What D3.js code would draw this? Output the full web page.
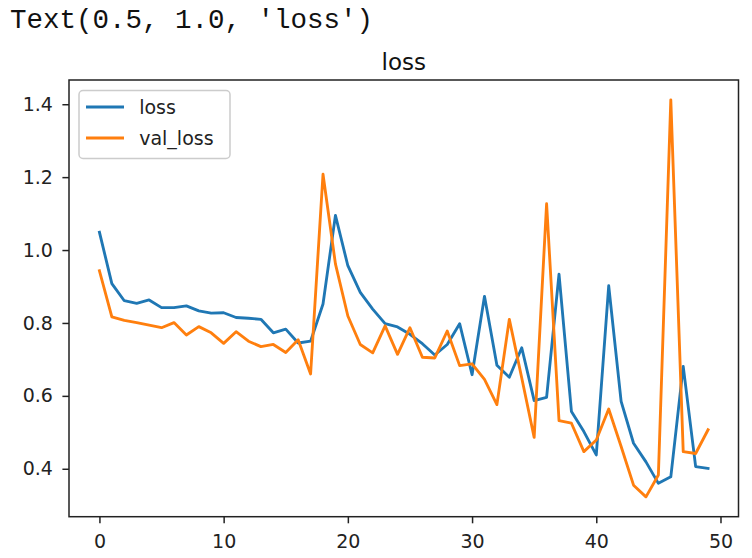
<!DOCTYPE html>
<html>
<head>
<meta charset="utf-8">
<script src="https://cdn.jsdelivr.net/npm/d3@7"></script>
<style>
  body { margin: 0; background: #fff; }
  svg { display: block; }
</style>
</head>
<body>
<div id="chart"></div>
<script>
// values (one per epoch)
var epochs = d3.range(0, 50);
var loss = [1.049, 0.908, 0.861, 0.854, 0.863, 0.842, 0.842, 0.847, 0.833, 0.827,
            0.828, 0.815, 0.813, 0.810, 0.773, 0.783, 0.745, 0.750, 0.852, 1.095,
            0.957, 0.884, 0.838, 0.798, 0.789, 0.769, 0.743, 0.712, 0.741, 0.798,
            0.658, 0.873, 0.684, 0.651, 0.732, 0.587, 0.596, 0.934, 0.557, 0.502,
            0.438, 0.902, 0.585, 0.470, 0.419, 0.360, 0.378, 0.681, 0.406, 0.401];
var valLoss = [0.943, 0.817, 0.807, 0.801, 0.794, 0.787, 0.801, 0.767, 0.790, 0.773,
               0.744, 0.776, 0.750, 0.735, 0.741, 0.719, 0.754, 0.660, 1.208, 0.962,
               0.819, 0.741, 0.718, 0.792, 0.714, 0.787, 0.706, 0.704, 0.778, 0.683,
               0.688, 0.645, 0.576, 0.810, 0.649, 0.486, 1.127, 0.532, 0.525, 0.447,
               0.479, 0.564, 0.461, 0.355, 0.323, 0.383, 1.412, 0.447, 0.442, 0.507];
var seriesNames = ["loss", "val_loss"];
var seriesColors = ["#1f77b4", "#ff7f0e"];
var xTicks = [0, 10, 20, 30, 40, 50];
var yTicks = [0.4, 0.6, 0.8, 1.0, 1.2, 1.4];
var titleText = "loss";
var outputText = "Text(0.5, 1.0, 'loss')";

var svgWidth = 752, svgHeight = 558;
var margin = {top: 80, right: 13.5, bottom: 41.3, left: 69};
var width = svgWidth - margin.left - margin.right,
    height = svgHeight - margin.top - margin.bottom;
var fs = 19;  // 10pt at this picture's scale
var lw = 2.85;

var series = [loss, valLoss];

// matplotlib style 5% margins around the data
function padded(lo, hi) {
  var p = (hi - lo) * 0.05;
  return [lo - p, hi + p];
}
var allVals = loss.concat(valLoss);

var x = d3.scaleLinear()
    .domain(padded(d3.min(epochs), d3.max(epochs)))
    .range([0, width]);
var y = d3.scaleLinear()
    .domain(padded(d3.min(allVals), d3.max(allVals)))
    .range([height, 0]);

var root = d3.select("#chart").append("svg")
    .attr("width", svgWidth)
    .attr("height", svgHeight);

root.append("rect")
    .attr("width", svgWidth)
    .attr("height", svgHeight)
    .attr("fill", "#fff");

// the notebook output line above the figure
root.append("text")
    .attr("x", 10)
    .attr("y", 28)
    .style("font-family", "'Liberation Mono', 'DejaVu Sans Mono', monospace")
    .style("font-size", "27.5px")
    .attr("fill", "#111")
    .text(outputText);

var svg = root.append("g")
    .attr("transform", "translate(" + margin.left + "," + margin.top + ")");

// title
svg.append("text")
    .attr("x", width / 2)
    .attr("y", -10)
    .attr("text-anchor", "middle")
    .style("font-family", "'DejaVu Sans', sans-serif")
    .style("font-size", "23px")
    .attr("fill", "#111")
    .text(titleText);

// lines
var line = d3.line()
    .x(function(d, i) { return x(epochs[i]); })
    .y(function(d) { return y(d); });

series.forEach(function(s, k) {
  svg.append("path")
    .datum(s)
    .attr("d", line)
    .attr("fill", "none")
    .attr("stroke", seriesColors[k])
    .attr("stroke-width", lw)
    .attr("stroke-linejoin", "round")
    .attr("stroke-linecap", "square");
});

// axes
var xAxis = svg.append("g")
    .attr("transform", "translate(0," + height + ")")
    .call(d3.axisBottom(x).tickValues(xTicks).tickSize(6.6).tickPadding(11).tickSizeOuter(0));
var yAxis = svg.append("g")
    .call(d3.axisLeft(y).tickValues(yTicks).tickFormat(d3.format(".1f")).tickSize(6.6).tickPadding(9.5).tickSizeOuter(0));

[xAxis, yAxis].forEach(function(a) {
  a.select(".domain").remove();
  a.selectAll("line").attr("stroke", "#222").attr("stroke-width", 1.5);
  a.selectAll("text")
    .style("font-family", "'DejaVu Sans', sans-serif")
    .style("font-size", fs + "px")
    .attr("fill", "#222");
});

// frame (spines)
svg.append("rect")
    .attr("width", width)
    .attr("height", height)
    .attr("fill", "none")
    .attr("stroke", "#222")
    .attr("stroke-width", 1.5);

// legend, upper left
var pad = fs * 0.5;
var rowH = 31;
var legend = svg.append("g")
    .attr("transform", "translate(" + (pad + 0.5) + "," + (pad + 1) + ")");
legend.append("rect")
    .attr("width", 151)
    .attr("height", 68)
    .attr("rx", 4)
    .attr("fill", "#fff")
    .attr("fill-opacity", 0.8)
    .attr("stroke", "#ccc")
    .attr("stroke-width", 1.5);

seriesNames.forEach(function(name, k) {
  var ry = 16.5 + k * rowH;
  legend.append("line")
    .attr("x1", 7)
    .attr("x2", 7 + 2 * fs)
    .attr("y1", ry)
    .attr("y2", ry)
    .attr("stroke", seriesColors[k])
    .attr("stroke-width", lw);
  legend.append("text")
    .attr("x", 7 + 2 * fs + 0.8 * fs)
    .attr("y", ry)
    .attr("dy", "0.35em")
    .style("font-family", "'DejaVu Sans', sans-serif")
    .style("font-size", fs + "px")
    .attr("fill", "#222")
    .text(name);
});
</script>
</body>
</html>
